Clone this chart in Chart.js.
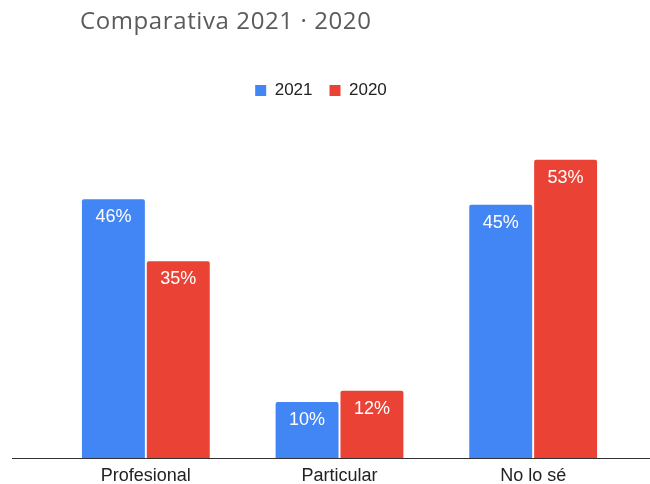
<!DOCTYPE html>
<html>
<head>
<meta charset="utf-8">
<script src="https://cdn.jsdelivr.net/npm/chart.js@4/dist/chart.umd.min.js"></script>
<style>
    html, body { margin: 0; padding: 0; background: #fff; }
    #wrap { position: relative; width: 650px; height: 484px; }
    #title {
        position: absolute; left: 80px; top: 3px;
        font-family: "Open Sans", sans-serif; font-size: 24px;
        color: #5b5b5b; letter-spacing: 0.6px;
    }
</style>
</head>
<body>
<div id="wrap">
    <div id="title">Comparativa 2021 · 2020</div>
    <canvas id="chart" width="650" height="484"></canvas>
</div>
<script>
const categories = ['Profesional', 'Particular', 'No lo sé'];
const values2021 = [46, 10, 45];
const values2020 = [35, 12, 53];
const seriesNames = ['2021', '2020'];

// white percentage labels just inside the top of each bar
const barLabels = {
    id: 'barLabels',
    afterDatasetsDraw(chart) {
        const ctx = chart.ctx;
        ctx.save();
        ctx.fillStyle = '#ffffff';
        ctx.font = '18px "Liberation Sans", Arial, sans-serif';
        ctx.textAlign = 'center';
        ctx.textBaseline = 'middle';
        chart.data.datasets.forEach((ds, i) => {
            chart.getDatasetMeta(i).data.forEach((bar, j) => {
                ctx.fillText(ds.data[j] + '%', bar.x, bar.y + 18);
            });
        });
        ctx.restore();
    }
};

// baseline running across the whole width
const baseLine = {
    id: 'baseLine',
    afterDraw(chart) {
        const ctx = chart.ctx;
        const y = chart.scales.y.getPixelForValue(0);
        ctx.save();
        ctx.strokeStyle = '#333333';
        ctx.lineWidth = 1;
        ctx.beginPath();
        ctx.moveTo(chart.scales.y.left, Math.round(y) + 0.5);
        ctx.lineTo(chart.width, Math.round(y) + 0.5);
        ctx.stroke();
        ctx.restore();
    }
};

new Chart(document.getElementById('chart').getContext('2d'), {
    type: 'bar',
    data: {
        labels: categories,
        datasets: [{
            label: seriesNames[0],
            data: values2021,
            backgroundColor: '#4285F4',
            borderRadius: 2,
            borderSkipped: 'bottom'
        }, {
            label: seriesNames[1],
            data: values2020,
            backgroundColor: '#EA4335',
            borderRadius: 2,
            borderSkipped: 'bottom'
        }]
    },
    options: {
        responsive: false,
        animation: false,
        layout: { padding: { left: 12, right: 20, top: 65, bottom: -10 } },
        datasets: { bar: { categoryPercentage: 0.67, barPercentage: 0.97 } },
        plugins: {
            title: { display: false },
            tooltip: { enabled: false },
            legend: {
                position: 'top',
                labels: {
                    boxWidth: 11,
                    boxHeight: 11,
                    padding: 17,
                    color: '#222',
                    font: { family: '"Liberation Sans", Arial, sans-serif', size: 17 }
                }
            }
        },
        scales: {
            x: {
                grid: { display: false, drawTicks: false },
                border: { display: false },
                ticks: {
                    color: '#222',
                    padding: 7,
                    font: { family: '"Liberation Sans", Arial, sans-serif', size: 18 }
                }
            },
            y: {
                min: 0,
                max: 62,
                grid: { display: false },
                border: { display: false },
                ticks: { display: false },
                afterFit(scale) { scale.width = 37; }
            }
        }
    },
    plugins: [barLabels, baseLine]
});
</script>
</body>
</html>
